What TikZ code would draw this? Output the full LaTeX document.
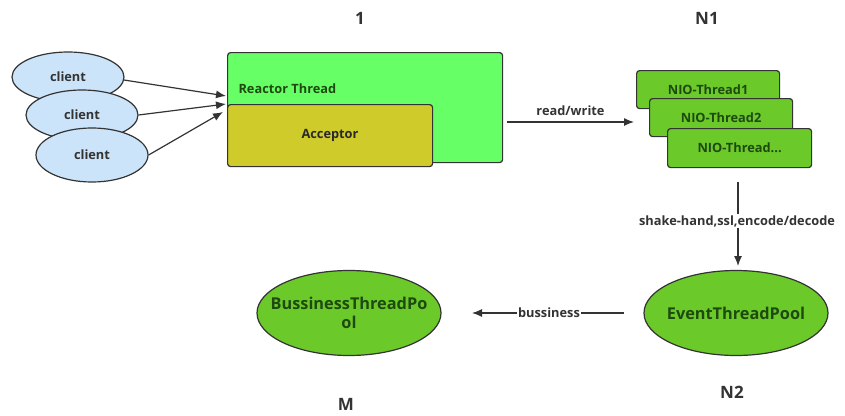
\documentclass[tikz,border=0pt]{standalone}
\usepackage{fontspec}
\setmainfont{Open Sans}
\usetikzlibrary{arrows.meta,shapes.geometric}
\definecolor{clientfill}{HTML}{CCE4FA}
\definecolor{edgegray}{HTML}{333333}
\definecolor{reactorfill}{HTML}{66FF66}
\definecolor{acceptfill}{HTML}{CFCB2A}
\definecolor{niofill}{HTML}{6BC92A}
\definecolor{darkgreen}{HTML}{1E4A10}
\definecolor{textgray}{HTML}{333333}
\begin{document}
\begin{tikzpicture}[x=1pt,y=-1pt,
  every node/.style={font=\bfseries\fontsize{12.8}{15}\selectfont, text=textgray},
  clientell/.style={ellipse, draw=edgegray, line width=1.2pt, fill=clientfill, minimum width=112pt, minimum height=50pt, inner sep=0pt},
  boxstyle/.style={draw=edgegray, line width=1.2pt, rounded corners=3pt, inner sep=0pt, anchor=north west},
  niobox/.style={boxstyle, fill=niofill, minimum width=143pt, minimum height=38pt, text=darkgreen},
  poolell/.style={ellipse, draw=edgegray, line width=1.2pt, fill=niofill, minimum width=184pt, minimum height=85pt, inner sep=0pt},
  pooltext/.style={text=darkgreen, font=\bfseries\fontsize{16.3}{19}\selectfont, align=center},
  arr/.style={-{Latex[length=10pt,width=8pt]}, line width=1.2pt, draw=edgegray},
  title/.style={font=\bfseries\fontsize{17}{19}\selectfont},
  lbl/.style={fill=white, inner sep=1.5pt}
]
\useasboundingbox (0,0) rectangle (845,415);

% titles
\node[title] (t1) at (360,18) {1};
\node[title] (tN1) at (707,18) {N1};
\node[title] (tN2) at (732,392) {N2};
\node[title] (tM) at (346,404) {M};

% clients
\node[clientell] (c1) at (68,77) {client};
\node[clientell] (c2) at (82,115) {client};
\node[clientell, minimum height=54pt] (c3) at (92,155) {client};

% reactor & acceptor
\node[boxstyle, fill=reactorfill, minimum width=275pt, minimum height=110pt] (reactor) at (227,52) {};
\node[anchor=west, text=darkgreen] (rlabel) at (235,89) {Reactor Thread};
\node[boxstyle, fill=acceptfill, minimum width=205pt, minimum height=62pt] (acceptor) at (227,104) {};
\node[text=textgray!80!black] (alabel) at (330,135) {Acceptor};

\coordinate (o1) at (124,80);
\coordinate (in1) at (226,96);
\coordinate (in2) at (226,104);
\coordinate (in3) at (223,112);
\draw[arr] (o1) -- (in1);
\draw[arr] (c2.east) -- (in2);
\draw[arr] (c3.east) -- (in3);

% read/write
\coordinate (rwstart) at (507,122);
\node[niobox] (n1) at (636,70) {NIO-Thread1};
\node[niobox] (n2) at (649,98) {NIO-Thread2};
\node[niobox, minimum width=144pt, minimum height=39pt] (n3) at (667,128) {NIO-Thread...};
\coordinate (rwend) at (634,122);
\draw[arr] (rwstart) -- node[above=2pt] (rwl) {read/write} (rwend);

% pools
\node[poolell] (event) at (736,313) {};
\node[pooltext] (eventl) at (event.center) {EventThreadPool};
\node[poolell] (buss) at (349,313) {};
\node[pooltext] (bussl) at (buss.center) {BussinessThreadPo\\ol};

% shake-hand
\coordinate (shtop) at (738,182);
\coordinate (shend) at (738,266);
\draw[arr] (shtop) -- (shend);
\node[lbl] (shl) at (737,221) {shake-hand,ssl,encode/decode};

% bussiness
\coordinate (bstart) at (624,313);
\coordinate (bend) at (472,313);
\draw[arr] (bstart) -- (bend);
\node[lbl] (bl) at (549,313) {bussiness};
\end{tikzpicture}
\end{document}
